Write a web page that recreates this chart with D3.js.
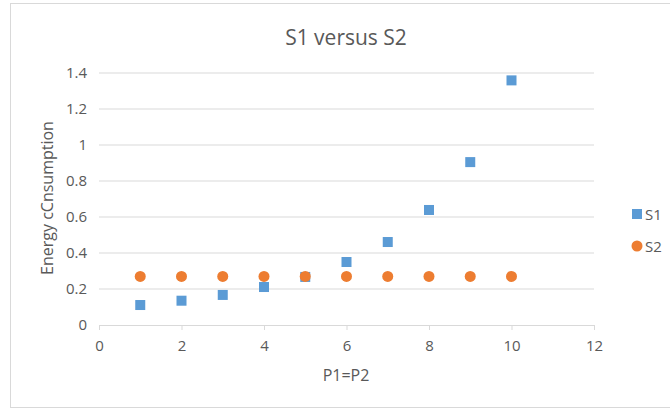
<!DOCTYPE html>
<html>
<head>
<meta charset="utf-8">
<script src="https://cdn.jsdelivr.net/npm/d3@7"></script>
<style>
  body { margin: 0; background: #fff; }
  text { font-family: "Open Sans", "Noto Sans", sans-serif; fill: #595959; }
</style>
</head>
<body>
<div id="graph"></div>
<script>
// data
var xValues = [1, 2, 3, 4, 5, 6, 7, 8, 9, 10];
var s1Values = [0.111, 0.135, 0.167, 0.211, 0.267, 0.35, 0.461, 0.639, 0.905, 1.359];
var s2Values = [0.27, 0.27, 0.27, 0.27, 0.27, 0.27, 0.27, 0.27, 0.27, 0.27];
var xTicks = [0, 2, 4, 6, 8, 10, 12];
var yTicks = [0, 0.2, 0.4, 0.6, 0.8, 1, 1.2, 1.4];
var seriesNames = ["S1", "S2"];
var seriesColors = ["#5b9bd5", "#ed7d31"];

var W = 670, H = 410;
var margin = {top: 73, right: 76, bottom: 85, left: 99},
    width = W - margin.left - margin.right,
    height = H - margin.top - margin.bottom;

var root = d3.select("#graph")
  .append("svg")
    .attr("width", W)
    .attr("height", H);

// chart border
root.append("rect")
  .attr("x", 10.5).attr("y", 3.5)
  .attr("width", 680).attr("height", 404)
  .attr("fill", "#fff")
  .attr("stroke", "#d9d9d9");

var svg = root.append("g")
  .attr("transform", "translate(" + margin.left + "," + margin.top + ")");

var x = d3.scaleLinear().domain([0, 12]).range([0, width]);
var y = d3.scaleLinear().domain([0, 1.4]).range([height, 0]);

// gridlines
svg.append("g")
  .selectAll("line")
  .data(yTicks.slice(1))
  .enter().append("line")
    .attr("x1", 0).attr("x2", width)
    .attr("y1", function(d) { return y(d); })
    .attr("y2", function(d) { return y(d); })
    .attr("stroke", "#d9d9d9");

// x axis
var xAxis = svg.append("g")
  .attr("transform", "translate(0," + height + ")")
  .call(d3.axisBottom(x).tickValues(xTicks).tickSize(5).tickPadding(10));
xAxis.select(".domain").attr("stroke", "#d9d9d9");
xAxis.selectAll(".tick line").attr("stroke", "#d9d9d9");
xAxis.selectAll("text").style("font-size", "15px").attr("fill", "#595959");

// y axis
var yAxis = svg.append("g")
  .call(d3.axisLeft(y).tickValues(yTicks).tickSize(0).tickPadding(12)
    .tickFormat(function(d) { return d3.format("")(+d.toFixed(1)); }));
yAxis.select(".domain").remove();
yAxis.selectAll("text").style("font-size", "15px").attr("fill", "#595959");

// title
root.append("text")
  .attr("x", 346).attr("y", 45)
  .attr("text-anchor", "middle")
  .style("font-size", "21px")
  .text("S1 versus S2");

// axis titles
root.append("text")
  .attr("x", 346).attr("y", 381)
  .attr("text-anchor", "middle")
  .style("font-size", "16px")
  .text("P1=P2");

root.append("text")
  .attr("transform", "translate(53,198) rotate(-90)")
  .attr("text-anchor", "middle")
  .style("font-size", "16px")
  .text("Energy cCnsumption");

// S1 squares
svg.append("g")
  .selectAll("rect")
  .data(xValues)
  .enter().append("rect")
    .attr("x", function(d) { return x(d) - 5; })
    .attr("y", function(d, i) { return y(s1Values[i]) - 5; })
    .attr("width", 10).attr("height", 10)
    .attr("fill", seriesColors[0]);

// S2 circles
svg.append("g")
  .selectAll("circle")
  .data(xValues)
  .enter().append("circle")
    .attr("cx", function(d) { return x(d); })
    .attr("cy", function(d, i) { return y(s2Values[i]); })
    .attr("r", 5.5)
    .attr("fill", seriesColors[1]);

// legend
var legend = root.append("g");
legend.append("rect")
  .attr("x", 632).attr("y", 209).attr("width", 10).attr("height", 10)
  .attr("fill", seriesColors[0]);
legend.append("circle")
  .attr("cx", 637).attr("cy", 246).attr("r", 5.5)
  .attr("fill", seriesColors[1]);
legend.selectAll("text")
  .data(seriesNames)
  .enter().append("text")
    .attr("x", 645)
    .attr("y", function(d, i) { return 220 + i * 32; })
    .style("font-size", "15px")
    .text(function(d) { return d; });
</script>
</body>
</html>
